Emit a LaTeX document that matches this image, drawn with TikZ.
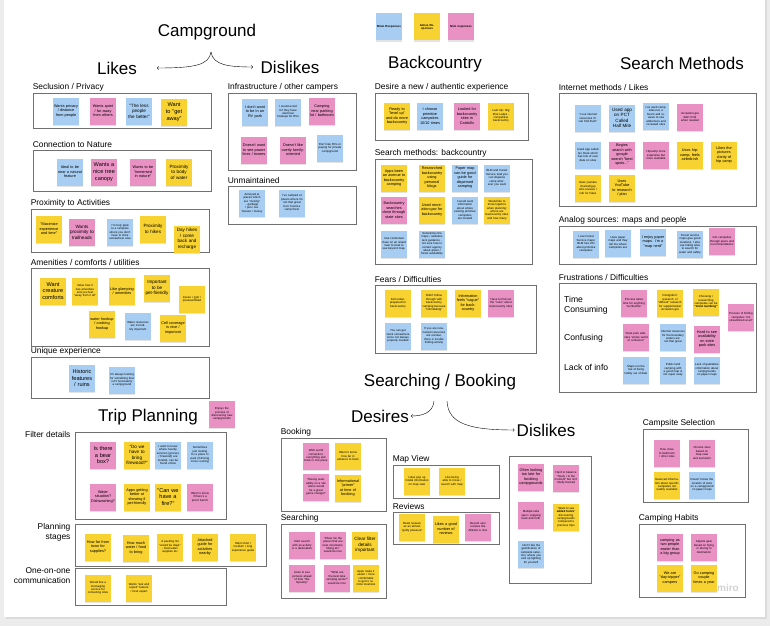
\documentclass[tikz,border=0pt]{standalone}
\usepackage{fontspec}
\setmainfont{Liberation Sans}
\usepackage{tikz}
\usetikzlibrary{positioning,fit,shadows}

\definecolor{noteblue}{RGB}{167,206,242}
\definecolor{noteyellow}{RGB}{248,210,48}
\definecolor{notepink}{RGB}{234,145,196}
\definecolor{boxgray}{RGB}{112,112,112}
\definecolor{boardgray}{RGB}{236,236,236}

\begin{document}
\begin{tikzpicture}[
    x=1pt, y=-1pt,
    title/.style={font=\fontsize{17}{20}\selectfont, inner sep=2pt},
    grouplbl/.style={font=\fontsize{8.4}{9.6}\selectfont, inner sep=0pt},
    sidelbl/.style={font=\fontsize{8.4}{9.6}\selectfont, inner sep=0pt, align=right},
    rowlbl/.style={font=\fontsize{8.6}{9.6}\selectfont, inner sep=0pt, align=left, anchor=west},
    group/.style={draw=boxgray, line width=0.8pt, inner sep=0pt},
    note/.style={rectangle, minimum width=26pt, minimum height=27pt, text width=24pt, inner sep=1pt, align=center,
        font=\fontsize{3.8}{4.5}\selectfont, drop shadow={shadow xshift=0pt, shadow yshift=-1.2pt, opacity=0.22}},
    bnote/.style={note, fill=noteblue},
    ynote/.style={note, fill=noteyellow},
    pnote/.style={note, fill=notepink},
    ftiny/.style={font=\fontsize{2.9}{3.4}\selectfont},
    fmid/.style={font=\fontsize{4.6}{5.5}\selectfont},
    fbig/.style={font=\fontsize{5.6}{6.7}\selectfont},
]
    \useasboundingbox (0,0) rectangle (770,626);
    % Board
    \fill[boardgray] (0,0) rectangle (770,626);
    \fill[white, drop shadow={shadow xshift=1.5pt, shadow yshift=-1.5pt, opacity=0.15}] (4,-5) rectangle (765,617);

    % Legend
    \node[bnote, ftiny] (brian) at (389,27) {\textbf{Brian Responses}};
    \node[ynote, ftiny] (aimee) at (427,27) {\textbf{Aimee Responses}};
    \node[pnote, ftiny] (nick) at (461,27) {\textbf{Nick responses}};

    % Titles
    \node[title] (campground) at (207,32) {Campground};
    \node[title] (likes) at (117,68) {Likes};
    \node[title] (dislikes) at (290,67) {Dislikes};
    \node[title] (backcountry) at (435,64) {Backcountry};
    \node[title] (searchmethods) at (682,63) {Search Methods};
    \node[title] (tripplanning) at (148,417) {Trip Planning};
    \node[title] (searching) at (440,382) {Searching / Booking};
    \node[title] (desires) at (380,416) {Desires};
    \node[title] (sbdislikes) at (546,430) {Dislikes};

    \coordinate (campbrace) at (211,52);
    \coordinate (likesin) at (157,68);
    \coordinate (dislikesin) at (253,67);
    \draw[->] (campbrace) .. controls (209,65) and (195,68) .. (likesin);
    \draw[->] (campbrace) .. controls (213,65) and (228,67) .. (dislikesin);

    \coordinate (sbleft) at (434,401);
    \coordinate (sbright) at (447,401);
    \draw[->] (sbleft) .. controls (433,413) and (422,416) .. (desires.east);
    \draw[->] (sbright) .. controls (448,424) and (470,430) .. (sbdislikes.west);

    % Campground likes
    \node[group, fit={(33,93) (211,128)}] (seclusion) {};
    \node[grouplbl, above right=1.5pt and 0pt of seclusion.north west] {Seclusion / Privacy};
    \node[bnote] (sec1) at (66,111) {Wants privacy / distance from people};
    \node[pnote] (sec2) at (103,111) {Wants quiet / far away from others};
    \node[bnote, fmid] (sec3) at (139,111) {"The less people the better"};
    \node[ynote, fbig] (sec4) at (174,112) {Want to "get away"};

    \node[group, fit={(33,150) (211,191)}] (nature) {};
    \node[grouplbl, above right=1.5pt and 0pt of nature.north west] {Connection to Nature};
    \node[bnote] (nat1) at (70,172) {Ideal to be near a natural feature};
    \node[pnote, fbig] (nat2) at (104,172) {Wants a nice tree canopy};
    \node[pnote] (nat3) at (143,172) {Wants to be "immersed in nature"};
    \node[ynote, fmid] (nat4) at (179,172) {Proximity to body of water};

    \node[group, fit={(31,209) (209,252)}] (activities) {};
    \node[grouplbl, above right=1.5pt and 0pt of activities.north west] {Proximity to Activities};
    \node[ynote] (act1) at (49,229) {"Maximize experience and time"};
    \node[pnote, fmid] (act2) at (82,232) {Wants proximity to trailheads};
    \node[bnote, ftiny] (act3) at (120,232) {I'm truly glad to a campsite where you don't have to drive somewhere else};
    \node[ynote, fmid] (act4) at (153,229) {Proximity to hikes};
    \node[ynote, fmid] (act5) at (187,239) {Day hikes / come back and recharge};

    \node[group, fit={(31,268) (209,346)}] (amenities) {};
    \node[grouplbl, above right=1.5pt and 0pt of amenities.north west] {Amenities / comforts / utilities};
    \node[ynote, fbig] (ame1) at (53,291) {Want creature comforts};
    \node[ynote, ftiny] (ame2) at (85,291) {Value how it has amenities and you feel "away from it all"};
    \node[ynote] (ame3) at (122,291) {Like glamping / amenities};
    \node[ynote, fmid] (ame4) at (157,288) {Important to be pet-friendly};
    \node[ynote, ftiny] (ame5) at (192,299) {Cacao / gym / preassembled};
    \node[ynote] (ame6) at (102,324) {water hookup / cooking hookup};
    \node[bnote, ftiny] (ame7) at (138,326) {Water resources are incredibly important};
    \node[ynote] (ame8) at (173,328) {Cell coverage is nice / important};

    \node[group, fit={(31,357) (209,398)}] (unique) {};
    \node[grouplbl, above right=1.5pt and 0pt of unique.north west] {Unique experience};
    \node[bnote, fbig] (uni1) at (82,378) {Historic features / ruins};
    \node[bnote, ftiny] (uni2) at (122,380) {I'm always looking for something that isn't necessarily a campground};

    % Campground dislikes
    \node[group, fit={(228,93) (356,170)}] (infra) {};
    \node[grouplbl, above right=1.5pt and 0pt of infra.north west] {Infrastructure / other campers};
    \node[bnote] (inf1) at (255,112) {I don't want to be in an RV park};
    \node[bnote, ftiny] (inf2) at (288,112) {I would avoid it if they have electrical hookups for RVs};
    \node[pnote] (inf3) at (322,111) {Camping near parking lot / bathroom};
    \node[pnote] (inf4) at (254,150) {Doesn't want to see power lines / towers};
    \node[pnote] (inf5) at (293,150) {Doesn't like overly family-oriented};
    \node[bnote, ftiny] (inf6) at (330,148) {Don't like RVs or paying for private campground};

    \node[group, fit={(228,186) (356,224)}] (unmaint) {};
    \node[grouplbl, above right=1.5pt and 0pt of unmaint.north west] {Unmaintained};
    \node[bnote, ftiny] (unm1) at (252,203) {Annoyed at places which are "closing" - garbage / poor outhouses / messy};
    \node[bnote, ftiny] (unm2) at (292,203) {I've camped at places where it's not that great but I found a camp there};

    % Trip planning
    \node[pnote, ftiny] (discover) at (222,414) {Enjoys the process of discovering new campgrounds};

    \node[group, fit={(75,432) (226,519)}] (filter) {};
    \node[sidelbl, below left=0pt and 4pt of filter.north west] {Filter details};
    \node[pnote, fbig] (fil1) at (103,455) {Is there a bear box?};
    \node[ynote, fmid] (fil2) at (137,455) {"Do we have to bring firewood?"};
    \node[bnote, ftiny] (fil3) at (168,455) {I want to know where nearby services (grocery / firewood) are located, can be found online};
    \node[bnote, ftiny] (fil4) at (200,455) {Sometimes just looking for a place to park (if driving cross country)};
    \node[pnote] (fil5) at (103,497) {Water situation? Dishwashing?};
    \node[ynote] (fil6) at (137,497) {Apps getting better at showing if pet-friendly};
    \node[ynote, fbig] (fil7) at (168,497) {"Can we have a fire?"};
    \node[pnote, ftiny] (fil8) at (200,497) {Want to know if there's a picnic bench};

    \node[group, fit={(75,524) (266,566)}] (stages) {};
    \node[sidelbl, below left=0pt and 4pt of stages.north west] {Planning\\stages};
    \node[ynote] (sta1) at (98,547) {How far from town for supplies?};
    \node[ynote] (sta2) at (136,548) {How much water / food to bring};
    \node[ynote, ftiny] (sta3) at (170,547) {A packing list "would be dope" - food water supplies etc};
    \node[ynote] (sta4) at (205,547) {Attached guide for activities nearby};
    \node[ynote, ftiny] (sta5) at (243,547) {Want short / medium / long experience guide};

    \node[group, fit={(75,568) (226,605)}] (oneonone) {};
    \node[sidelbl, below left=0pt and 4pt of oneonone.north west] {One-on-one\\communication};
    \node[ynote, ftiny] (one1) at (98,588) {Would like a messaging service for contacting sites};
    \node[ynote, ftiny] (one2) at (139,588) {Wants "ask and expert" feature / local expert};

    % Backcountry
    \node[group, fit={(375,93) (528,140)}] (authentic) {};
    \node[grouplbl, above right=1.5pt and 0pt of authentic.north west] {Desire a new / authentic experience};
    \node[ynote] (aut1) at (397,116) {Ready to "level up" and do more backcountry};
    \node[bnote] (aut2) at (430,116) {I choose primitive campsites 10/10 times};
    \node[pnote] (aut3) at (467,116) {Looked for backcountry sites in Catskills};
    \node[ynote, ftiny] (aut4) at (501,116) {Last trip: Big Pine Lakes - competitive backcountry};

    \node[group, fit={(375,159) (532,264)}] (bcsearch) {};
    \node[grouplbl, above right=1.5pt and 0pt of bcsearch.north west] {Search methods: backcountry};
    \node[ynote] (bcs1) at (394,178) {Apps been an avenue to backcountry camping};
    \node[ynote] (bcs2) at (432,178) {Researched backcountry using personal blogs};
    \node[bnote] (bcs3) at (465,178) {Paper map can be good guide for dispersed camping};
    \node[bnote, ftiny] (bcs4) at (497,178) {BLM and Forest Service land you can disperse camp wherever you want};
    \node[pnote] (bcs5) at (394,210) {Backcountry searches done through state sites};
    \node[ynote] (bcs6) at (432,210) {Used recreation.gov for backcountry};
    \node[bnote, ftiny] (bcs7) at (465,210) {I would want information about where existing primitive campsites are located};
    \node[ynote, ftiny] (bcs8) at (497,210) {Would like to know logistics when planning: where are backcountry sites and how many};
    \node[bnote, ftiny] (bcs9) at (394,244) {Use contextual clues on an island near to boat to see beyond map.};
    \node[bnote, ftiny] (bcs10) at (432,244) {Sometimes the maps / websites lack guidance - not sure how to contact agency about green / forest availability};

    \node[group, fit={(375,285) (536,353)}] (fears) {};
    \node[grouplbl, above right=1.5pt and 0pt of fears.north west] {Fears / Difficulties};
    \node[ynote, ftiny] (fea1) at (398,303) {Felt underprepared for backcountry};
    \node[ynote, ftiny] (fea2) at (434,303) {Didn't follow through with backcountry camping because "intimidating"};
    \node[ynote] (fea3) at (468,303) {Information feels "vague" for backcountry};
    \node[pnote, ftiny] (fea4) at (501,303) {Have to find out the "rules" about backcountry sites};
    \node[bnote, ftiny] (fea5) at (398,336) {You can get stuck somewhere since not always properly marked};
    \node[bnote, ftiny] (fea6) at (434,336) {If you are new, natural resources are unclear, there is trouble finding activity};

    % Search methods
    \node[group, fit={(559,93) (756,206)}] (internet) {};
    \node[grouplbl, above right=1.5pt and 0pt of internet.north west] {Internet methods / Likes};
    \node[bnote, ftiny] (int1) at (588,118) {"I use internet resources if I can find them"};
    \node[bnote, fmid] (int2) at (622,118) {Used app on PCT Called Half Mile};
    \node[bnote, ftiny] (int3) at (656,116) {I've used campsites.net, a forum and reviews to see wilderness and reviewed sites};
    \node[pnote, ftiny] (int4) at (690,117) {recreation.gov didn't find when needed};
    \node[bnote, ftiny] (int5) at (588,155) {Used app called Go Hook which has lots of user data on sites};
    \node[pnote] (int6) at (622,155) {Begins search with google search "best spots..."};
    \node[pnote, ftiny] (int7) at (656,155) {Hipcamp more expensive but more available};
    \node[ynote] (int8) at (690,155) {Uses hipcamp, feels airbnb-ish};
    \node[ynote] (int9) at (724,155) {Likes the pictures clarity of hip camp};
    \node[ynote, ftiny] (int10) at (588,188) {Uses youtube channel/guy who reviews / info for hikes};
    \node[ynote] (int11) at (622,188) {Uses YouTube to research / plan};

    \node[group, fit={(559,226) (756,264)}] (analog) {};
    \node[grouplbl, above right=1.5pt and 0pt of analog.north west] {Analog sources: maps and people};
    \node[bnote, ftiny] (ana1) at (586,244) {I use Forest Service maps; BLM has info about primitive campsites};
    \node[bnote, ftiny] (ana2) at (618,243) {Uses paper maps and they tell me where campsites are};
    \node[bnote] (ana3) at (653,242) {I enjoy paper maps. I'm a "map nerd"};
    \node[bnote, ftiny] (ana4) at (690,244) {Forest service maps give good locations, I also use hiking sites to search for water and safety};
    \node[pnote, ftiny] (ana5) at (722,241) {Got campsites through peers and recommendations};

    \node[group, fit={(559,283) (756,392)}] (frustr) {};
    \node[grouplbl, above right=1.5pt and 0pt of frustr.north west] {Frustrations / Difficulties};
    \node[rowlbl] (timelbl) at (564,305.5) {Time\\Consuming};
    \node[rowlbl] (conflbl) at (564,338) {Confusing};
    \node[rowlbl] (lacklbl) at (564,367) {Lack of info};
    \node[pnote, ftiny] (fru1) at (634,303) {Process takes time for anything "worthwhile"};
    \node[ynote, ftiny] (fru2) at (670,303) {Doing/don't research, or "difficult" research for supplemental recreation.gov};
    \node[ynote, ftiny] (fru3) at (706,302) {Choosing / researching campsites can be \textbf{"mind numbing"}};
    \node[pnote, ftiny] (fru4) at (741,317) {Process of finding campsites "not streamlined at all"};
    \node[pnote, ftiny] (fru5) at (636,337) {State park websites "whole world of confusion"};
    \node[bnote, ftiny] (fru6) at (673,337) {Internet resources for the boundary waters are not that great};
    \node[pnote] (fru7) at (707,339) {Hard to see availability on state park sites};
    \node[bnote, ftiny] (fru8) at (636,370) {Maps run the risk of being totally out of date};
    \node[bnote, ftiny] (fru9) at (673,370) {Public land camping with a good map is not super easy};
    \node[bnote, ftiny] (fru10) at (707,370) {Lack of qualitative information about campgrounds on paper maps};

    % Searching / booking desires
    \node[group, fit={(281,438) (386,511)}] (booking) {};
    \node[grouplbl, above right=1.5pt and 0pt of booking.north west] {Booking};
    \node[pnote, ftiny] (boo1) at (316,456) {Wish world connection: everything and book in one place};
    \node[ynote, ftiny] (boo2) at (348,456) {Want to know how far in advance to book};
    \node[pnote, ftiny] (boo3) at (316,487) {"Having availability on a site where would be a great game changer"};
    \node[ynote] (boo4) at (348,488) {Informational "primer" at time of booking};

    \node[group, fit={(281,524) (386,598)}] (searchbox) {};
    \node[grouplbl, above right=1.5pt and 0pt of searchbox.north west] {Searching};
    \node[pnote, ftiny] (sea1) at (302,545) {Start search with an activity or a destination};
    \node[pnote, ftiny] (sea2) at (333,545) {"Show me the places that are near mountains, hiking etc" would be nice};
    \node[ynote, fmid] (sea3) at (365,545) {Clear filter details important};
    \node[pnote, ftiny] (sea4) at (302,578) {Likes to see pictures ahead of time "like hipcamp"};
    \node[pnote, ftiny] (sea5) at (337,578) {"What are the best lake camping spots?" would be nice};
    \node[ynote, ftiny] (sea6) at (366,578) {Apps make it easier / more comfortable to get to remote locations};

    \node[group, fit={(393,465) (499,498)}] (mapview) {};
    \node[grouplbl, above right=1.5pt and 0pt of mapview.north west] {Map View};
    \node[ynote, ftiny] (map1) at (417,481) {Likes pop up modal information on map view};
    \node[ynote, ftiny] (map2) at (452,481) {Like being able to move / search with map};

    \node[group, fit={(393,512) (499,544)}] (reviews) {};
    \node[grouplbl, above right=1.5pt and 0pt of reviews.north west] {Reviews};
    \node[ynote, ftiny] (rev1) at (412,527) {Read reviews as an almost "guilty pleasure"};
    \node[ynote] (rev2) at (446,529) {Likes a good number of reviews};
    \node[pnote, ftiny] (rev3) at (478,527) {Recent user reviews like Alltrails is nice};

    % Searching / booking dislikes
    \node[group, fit={(509,456) (591,583)}] (sbbox) {};
    \node[pnote] (sbd1) at (531,477) {Often looking too late for booking campgrounds};
    \node[pnote, ftiny] (sbd2) at (566,478) {Hard to balance "freely / in the moment" but isn't totally booked};
    \node[pnote, ftiny] (sbd3) at (531,515) {Multiple tabs open / popping back and forth};
    \node[ynote, ftiny] (sbd4) at (566,517) {"Want to see \textbf{added hunts}" discovering campgrounds compared to previous trips};
    \node[bnote, ftiny] (sbd5) at (531,554) {I don't like the gamification of campsite selection, where you end up fighting for yourself};

    \node[group, fit={(643,429) (748,502)}] (campsite) {};
    \node[grouplbl, above right=1.5pt and 0pt of campsite.north west] {Campsite Selection};
    \node[pnote, ftiny] (cs1) at (667,453) {How close to bathroom / other sites};
    \node[pnote, ftiny] (cs2) at (702,453) {Choose sites based on map view and seclusion};
    \node[ynote, ftiny] (cs3) at (667,485) {Nuanced information about specific campsites not readily available};
    \node[bnote, ftiny] (cs4) at (702,485) {Doesn't know the location of sites on a campground on paper maps};

    \node[group, fit={(639,524) (745,597)}] (habits) {};
    \node[grouplbl, above right=1.5pt and 0pt of habits.north west] {Camping Habits};
    \node[pnote] (hab1) at (670,547) {camping as two people easier than a big group};
    \node[pnote, ftiny] (hab2) at (704,547) {Adjusts gear based on flying or driving to destination};
    \node[ynote] (hab3) at (670,578) {We are "day-tripper" campers};
    \node[ynote] (hab4) at (704,578) {Go camping couple times a year};

    \node[text=gray!35, font=\fontsize{10}{12}\selectfont\bfseries] (miro) at (728,588) {miro};
\end{tikzpicture}
\end{document}
